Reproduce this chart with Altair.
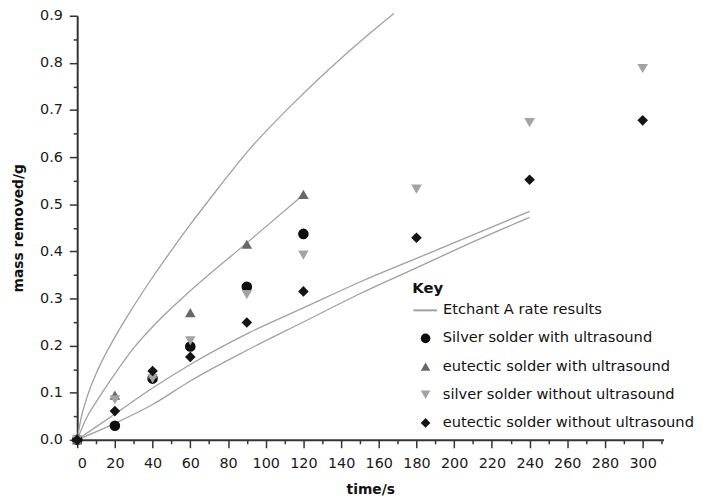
import altair as alt
import pandas as pd

# ---- data ----
times = [0, 20, 40, 60, 90, 120, 180, 240, 300]

line_name = "Etchant A rate results"
point_names = [
    "Silver solder with ultrasound",
    "eutectic solder with ultrasound",
    "silver solder without ultrasound",
    "eutectic solder without ultrasound",
]

silver_us = [0.0, 0.03, 0.13, 0.198, 0.325, 0.437]
eutectic_us = [0.0, 0.095, 0.14, 0.27, 0.415, 0.521]
silver_no_us = [0.0, 0.085, 0.13, 0.21, 0.308, 0.392, 0.532, 0.673, 0.788]
eutectic_no_us = [0.0, 0.061, 0.146, 0.176, 0.249, 0.315, 0.429, 0.552, 0.678]

# Etchant A rate curves
curve1_t = [0, 2, 5, 10, 20, 30, 40, 50, 60, 75, 90, 120, 150, 168]
curve1_y = [0.0, 0.045, 0.088, 0.14, 0.218, 0.284, 0.345, 0.402, 0.457, 0.535, 0.61, 0.735, 0.845, 0.905]
curve2_t = [0, 5, 10, 20, 30, 40, 55, 90, 120]
curve2_y = [0.0, 0.047, 0.08, 0.14, 0.195, 0.24, 0.298, 0.418, 0.52]
curve3_t = [0, 20, 40, 60, 90, 120, 150, 180, 210, 240]
curve3_y = [0.0, 0.055, 0.11, 0.16, 0.225, 0.28, 0.335, 0.385, 0.435, 0.485]
curve4_t = [0, 20, 40, 60, 90, 120, 150, 180, 210, 240]
curve4_y = [0.0, 0.035, 0.075, 0.125, 0.19, 0.25, 0.31, 0.365, 0.42, 0.472]

x_ticks = list(range(0, 320, 10))
y_ticks = [round(i * 0.05, 2) for i in range(19)]

point_colors = ["#0d0d0d", "#676767", "#a3a3a3", "#141414"]
point_shapes = ["circle", "triangle-up", "triangle-down", "diamond"]

# ---- build tables ----
pts = []
for name, vals in zip(point_names, [silver_us, eutectic_us, silver_no_us, eutectic_no_us]):
    for t, v in zip(times, vals):
        pts.append({"series": name, "t": t, "y": v})
pts_df = pd.DataFrame(pts)

lines = []
for cid, (ts, ys) in enumerate([(curve1_t, curve1_y), (curve2_t, curve2_y),
                                 (curve3_t, curve3_y), (curve4_t, curve4_y)]):
    for t, v in zip(ts, ys):
        lines.append({"curve": f"c{cid}", "label": line_name, "t": t, "y": v})
lines_df = pd.DataFrame(lines)

x_scale = alt.Scale(domain=[0, 311], nice=False, zero=True)
y_scale = alt.Scale(domain=[0, 0.9], nice=False)

x_axis = alt.Axis(
    values=x_ticks,
    labelExpr="datum.value % 20 == 0 ? datum.label : ''",
    tickSize={"condition": {"test": "datum.value % 20 == 0", "value": 8}, "value": 4},
    labelOverlap=False,
    labelPadding=9,
    title="time/s",
    titlePadding=13,
)
y_axis = alt.Axis(
    values=y_ticks,
    labelExpr="abs(datum.value*10 - round(datum.value*10)) < 0.01 ? format(datum.value, '.1f') : ''",
    tickSize={"condition": {"test": "abs(datum.value*10 - round(datum.value*10)) < 0.01", "value": 8},
              "value": 4},
    labelOverlap=False,
    labelPadding=7,
    title="mass removed/g",
    titlePadding=14,
)

line_legend = alt.Legend(
    title="Key",
    orient="none",
    legendX=339,
    legendY=268,
    titleFont="DejaVu Sans",
    titleFontSize=15,
    titleFontWeight="bold",
    titleColor="#111",
    titlePadding=2,
    labelFont="DejaVu Sans",
    labelFontSize=14.8,
    labelColor="#111",
    labelLimit=400,
    labelOffset=5,
    symbolType="stroke",
    symbolSize=576,
    symbolStrokeWidth=2,
    padding=0,
)

point_legend = alt.Legend(
    title=None,
    orient="none",
    legendX=345,
    legendY=319,
    labelFont="DejaVu Sans",
    labelFontSize=14.8,
    labelColor="#111",
    labelLimit=400,
    labelOffset=10,
    rowPadding=12.5,
    symbolSize=95,
    symbolStrokeWidth=0,
    padding=0,
)

line_layer = alt.Chart(lines_df).mark_line(strokeWidth=1.3, interpolate="monotone").encode(
    x=alt.X("t:Q", scale=x_scale, axis=x_axis),
    y=alt.Y("y:Q", scale=y_scale, axis=y_axis),
    detail="curve:N",
    stroke=alt.Stroke("label:N", scale=alt.Scale(domain=[line_name], range=["#a0a0a0"]),
                      legend=line_legend),
)

pt_layer = alt.Chart(pts_df).mark_point(filled=True, size=115, opacity=1, strokeWidth=0).encode(
    x=alt.X("t:Q", scale=x_scale, axis=x_axis),
    y=alt.Y("y:Q", scale=y_scale, axis=y_axis),
    shape=alt.Shape("series:N", scale=alt.Scale(domain=point_names, range=point_shapes),
                    legend=point_legend),
    fill=alt.Fill("series:N", scale=alt.Scale(domain=point_names, range=point_colors),
                  legend=point_legend),
)

chart = alt.layer(line_layer, pt_layer).properties(
    width=593,
    height=429,
    autosize=alt.AutoSizeParams(type="none"),
    padding={"left": 70, "top": 5, "right": 36, "bottom": 55},
).configure_view(stroke=None).configure_axis(
    grid=False,
    domainColor="#333",
    domainWidth=2,
    tickColor="#333",
    tickWidth=1.5,
    labelFont="DejaVu Sans",
    labelFontSize=14.5,
    labelColor="#1a1a1a",
    titleFont="DejaVu Sans",
    titleFontSize=14,
    titleFontWeight="bold",
    titleColor="#111",
)

chart.save("out.html", embed_options={"renderer": "svg", "actions": False})
